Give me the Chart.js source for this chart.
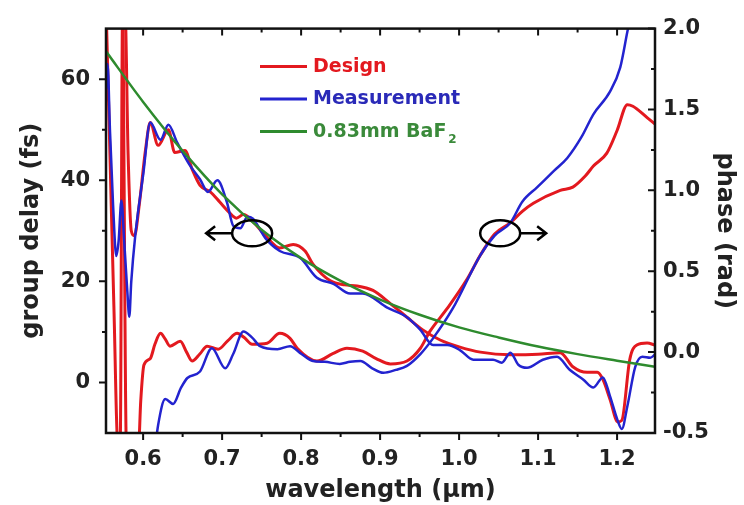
<!DOCTYPE html>
<html>
<head>
<meta charset="utf-8">
<script src="https://cdn.jsdelivr.net/npm/chart.js@4.4.1/dist/chart.umd.min.js"></script>
<style>
  html, body { margin: 0; padding: 0; background: #fff; }
  #wrap { width: 744px; height: 505px; }
</style>
</head>
<body>
<div id="wrap"><canvas id="myChart" width="744" height="505"></canvas></div>
<script>
// axis ranges + tick labels
const xRange = [0.553, 1.248];
const gdRange = [-10, 70];
const phRange = [-0.5, 2.0];
const xTicks = [0.6, 0.7, 0.8, 0.9, 1.0, 1.1, 1.2];
const gdTicks = [0, 20, 40, 60];
const phTicks = [-0.5, 0.0, 0.5, 1.0, 1.5, 2.0];

// group delay (fs)
const designGD = [
  [0.553, 75], [0.558, 45], [0.563, 15], [0.568, -12], [0.571, -12], [0.574, 74], [0.577, 74],
  [0.581, 45], [0.585, 30], [0.589, 29], [0.595, 35], [0.603, 46], [0.609, 51.4], [0.619, 46.9],
  [0.632, 50], [0.640, 45.5], [0.653, 45.9], [0.662, 42.2], [0.672, 39], [0.685, 37.7],
  [0.697, 35.7], [0.708, 33.8], [0.718, 32.5], [0.727, 33.2], [0.739, 31.8], [0.755, 29],
  [0.773, 26.6], [0.79, 27.3], [0.805, 26], [0.815, 23.4], [0.837, 20.1], [0.855, 19.3],
  [0.871, 19.1], [0.891, 18.2], [0.913, 15.6], [0.934, 12.9], [0.954, 10.4], [0.976, 8.4],
  [1.001, 7.0], [1.027, 6.0], [1.065, 5.5], [1.1, 5.6], [1.128, 5.9], [1.144, 3.1],
  [1.162, 2.0], [1.175, 2.0], [1.182, 0.6], [1.191, -3.3], [1.201, -7.8], [1.206, -7.5],
  [1.216, 4.5], [1.225, 7.4], [1.238, 7.8], [1.248, 7.4]
];
const measGD = [
  [0.553, 58], [0.555, 63], [0.558, 50], [0.562, 35], [0.566, 25], [0.569, 28], [0.5725, 36],
  [0.576, 28], [0.58, 18], [0.5825, 13], [0.585, 20], [0.59, 29], [0.6, 41], [0.609, 51.4],
  [0.622, 48], [0.632, 51], [0.643, 47.5], [0.659, 43], [0.672, 40.2], [0.682, 37.7],
  [0.694, 40], [0.706, 35.7], [0.714, 31], [0.723, 30.5], [0.732, 32.8], [0.739, 32.4],
  [0.755, 28.5], [0.773, 26], [0.799, 24.6], [0.82, 20.7], [0.841, 19.5], [0.862, 17.6],
  [0.878, 17.6], [0.909, 14.8], [0.934, 12.9], [0.951, 10.4], [0.967, 7.4], [0.985, 7.4],
  [1.001, 6.4], [1.018, 4.5], [1.043, 4.5], [1.054, 3.9], [1.065, 5.9], [1.075, 3.5],
  [1.086, 2.9], [1.106, 4.5], [1.124, 5.1], [1.14, 2.5], [1.157, 0.6], [1.17, -1],
  [1.182, 1], [1.191, -2.7], [1.2, -7.2], [1.206, -9.2], [1.213, -4.7], [1.223, 3.1],
  [1.232, 5.1], [1.242, 4.9], [1.248, 5.5]
];
const baf2GD = [
  [0.553, 65.5], [0.6, 55.5], [0.65, 45.8], [0.7, 37.2], [0.75, 30.2], [0.8, 24.6],
  [0.85, 20.1], [0.9, 16.4], [0.95, 13.4], [1.0, 10.9], [1.05, 8.9], [1.1, 7.1],
  [1.15, 5.6], [1.2, 4.3], [1.248, 3.1]
];

// phase (rad)
const designPh = [
  [0.5745, 2.1], [0.579, -0.6], [0.594, -0.6], [0.597, -0.3], [0.601, -0.08], [0.609, -0.04],
  [0.615, 0.05], [0.622, 0.116], [0.628, 0.08], [0.634, 0.037], [0.647, 0.067], [0.655, 0.0],
  [0.662, -0.055], [0.672, -0.01], [0.681, 0.037], [0.695, 0.018], [0.707, 0.07], [0.719, 0.116],
  [0.728, 0.09], [0.738, 0.049], [0.757, 0.055], [0.773, 0.116], [0.786, 0.085], [0.795, 0.024],
  [0.82, -0.055], [0.84, -0.01], [0.858, 0.024], [0.878, 0.006], [0.895, -0.04], [0.913, -0.073],
  [0.934, -0.055], [0.951, 0.024], [0.963, 0.128], [0.985, 0.27], [1.01, 0.45], [1.027, 0.6],
  [1.045, 0.73], [1.065, 0.8], [1.08, 0.87], [1.094, 0.92], [1.128, 1.0], [1.144, 1.02],
  [1.16, 1.09], [1.17, 1.15], [1.187, 1.23], [1.2, 1.37], [1.213, 1.53], [1.22, 1.52],
  [1.238, 1.45], [1.248, 1.41]
];
const measPh = [
  [0.615, -0.6], [0.619, -0.45], [0.628, -0.29], [0.638, -0.32], [0.648, -0.22], [0.656, -0.16],
  [0.672, -0.12], [0.687, 0.024], [0.704, -0.1], [0.714, -0.012], [0.727, 0.128], [0.738, 0.09],
  [0.748, 0.037], [0.77, 0.018], [0.786, 0.037], [0.8, -0.01], [0.815, -0.055], [0.83, -0.06],
  [0.849, -0.073], [0.862, -0.06], [0.875, -0.055], [0.89, -0.1], [0.904, -0.128], [0.92, -0.11],
  [0.934, -0.085], [0.951, -0.012], [0.967, 0.085], [0.992, 0.27], [1.027, 0.6], [1.045, 0.72],
  [1.065, 0.8], [1.08, 0.93], [1.099, 1.02], [1.12, 1.12], [1.137, 1.2], [1.155, 1.33],
  [1.17, 1.47], [1.191, 1.61], [1.204, 1.76], [1.213, 1.98], [1.218, 2.1]
];

const RED = "#e3191f";
const BLUE = "#2323cf";
const GREEN = "#2e8b2e";
const FONT = "'DejaVu Sans', sans-serif";

const pts = (arr) => arr.map(p => ({ x: p[0], y: p[1] }));

function line(data, color, width, axis, order) {
  return {
    data: pts(data),
    borderColor: color,
    borderWidth: width,
    pointRadius: 0,
    cubicInterpolationMode: "monotone",
    yAxisID: axis,
    order: order,
    clip: 0,
  };
}

// frame + minor/major ticks, drawn by hand (origin-style)
const frameTicks = {
  id: "frameTicks",
  afterDatasetsDraw(chart) {
    const { ctx, chartArea: a, scales } = chart;
    ctx.save();
    ctx.strokeStyle = "#111";
    ctx.lineWidth = 2.5;
    ctx.strokeRect(a.left, a.top, a.right - a.left, a.bottom - a.top);
    ctx.lineWidth = 2;
    ctx.beginPath();
    for (let i = 11; i <= 24; i++) {
      const v = i * 0.05;
      if (v < xRange[0] || v > xRange[1]) continue;
      const px = scales.x.getPixelForValue(v);
      const len = i % 2 === 0 ? 7 : 4;
      ctx.moveTo(px, a.bottom); ctx.lineTo(px, a.bottom + len);
      ctx.moveTo(px, a.top); ctx.lineTo(px, a.top + len);
    }
    for (let v = 0; v <= 60; v += 10) {
      const py = scales.y.getPixelForValue(v);
      const len = v % 20 === 0 ? 7 : 4;
      ctx.moveTo(a.left, py); ctx.lineTo(a.left - len, py);
    }
    for (let i = -2; i <= 8; i++) {
      const py = scales.y1.getPixelForValue(i * 0.25);
      const len = i % 2 === 0 ? 7 : 4;
      ctx.moveTo(a.right, py); ctx.lineTo(a.right - len, py);
    }
    ctx.stroke();
    ctx.restore();
  },
};

// the two "which axis" ellipses with arrows
const axisMarks = {
  id: "axisMarks",
  afterDatasetsDraw(chart) {
    const { ctx, scales } = chart;
    const marks = [
      { x: 0.738, y: 29.5, dir: -1 },
      { x: 1.052, y: 29.5, dir: 1 },
    ];
    ctx.save();
    ctx.strokeStyle = "#000";
    ctx.lineWidth = 2.5;
    marks.forEach(m => {
      const cx = scales.x.getPixelForValue(m.x);
      const cy = scales.y.getPixelForValue(m.y);
      const rx = 20, ry = 13;
      ctx.beginPath();
      ctx.ellipse(cx, cy, rx, ry, 0, 0, Math.PI * 2);
      ctx.stroke();
      const x0 = cx + m.dir * rx;
      const tip = x0 + m.dir * 26;
      ctx.beginPath();
      ctx.moveTo(x0, cy); ctx.lineTo(tip, cy);
      ctx.moveTo(tip - m.dir * 9, cy - 7); ctx.lineTo(tip, cy); ctx.lineTo(tip - m.dir * 9, cy + 7);
      ctx.stroke();
    });
    ctx.restore();
  },
};

// legend inside the plot
const innerLegend = {
  id: "innerLegend",
  afterDatasetsDraw(chart) {
    const { ctx, chartArea: a } = chart;
    const items = [
      { text: "Design", color: RED, line: RED, sub: "" },
      { text: "Measurement", color: "#2a2ab8", line: BLUE, sub: "" },
      { text: "0.83mm BaF", color: "#3a8a3a", line: GREEN, sub: "2" },
    ];
    const x0 = a.left + 154;
    ctx.save();
    ctx.font = "bold 19px " + FONT;
    ctx.textBaseline = "middle";
    items.forEach((it, i) => {
      const y = a.top + 38 + i * 32.5;
      ctx.strokeStyle = it.line;
      ctx.lineWidth = 3;
      ctx.beginPath();
      ctx.moveTo(x0, y); ctx.lineTo(x0 + 47, y);
      ctx.stroke();
      ctx.fillStyle = it.color;
      ctx.font = "bold 19px " + FONT;
      ctx.fillText(it.text, x0 + 53, y);
      if (it.sub) {
        const w = ctx.measureText(it.text).width;
        ctx.font = "bold 12px " + FONT;
        ctx.fillText(it.sub, x0 + 55 + w, y + 8);
      }
    });
    ctx.restore();
  },
};

const tickFont = { family: FONT, size: 21, weight: "bold" };
const titleFont = { family: FONT, size: 24, weight: "bold" };

const config = {
  type: "line",
  data: {
    datasets: [
      line(baf2GD, GREEN, 2.5, "y", 0),
      line(measGD, BLUE, 2.5, "y", 1),
      line(measPh, BLUE, 2.5, "y1", 2),
      line(designGD, RED, 3, "y", 3),
      line(designPh, RED, 3, "y1", 4),
    ],
  },
  options: {
    responsive: false,
    animation: false,
    maintainAspectRatio: false,
    layout: { padding: { top: 24, left: 0, right: 0, bottom: 0 } },
    scales: {
      x: {
        type: "linear",
        position: "bottom",
        min: xRange[0],
        max: xRange[1],
        grid: { display: false, drawTicks: false },
        border: { display: false },
        afterBuildTicks: (s) => { s.ticks = xTicks.map(v => ({ value: v })); },
        afterFit: (s) => { s.height = 72; },
        ticks: {
          font: tickFont, color: "#222", padding: 14, autoSkip: false, maxRotation: 0,
          callback: (v) => Number(v).toFixed(1),
        },
        title: { display: true, text: "wavelength (µm)", font: titleFont, color: "#222", padding: { top: 0, bottom: 0 } },
      },
      y: {
        type: "linear",
        position: "left",
        min: gdRange[0],
        max: gdRange[1],
        grid: { display: false, drawTicks: false },
        border: { display: false },
        afterBuildTicks: (s) => { s.ticks = gdTicks.map(v => ({ value: v })); },
        afterFit: (s) => { s.width = 106; },
        ticks: { font: tickFont, color: "#222", padding: 16 },
        title: { display: true, text: "group delay (fs)", font: titleFont, color: "#222", padding: { top: 17, bottom: 0 } },
      },
      y1: {
        type: "linear",
        position: "right",
        min: phRange[0],
        max: phRange[1],
        grid: { display: false, drawTicks: false },
        border: { display: false },
        afterBuildTicks: (s) => { s.ticks = phTicks.map(v => ({ value: v })); },
        afterFit: (s) => { s.width = 89; },
        ticks: {
          font: tickFont, color: "#222", padding: 8,
          callback: (v) => Number(v).toFixed(1),
        },
        title: { display: true, text: "phase (rad)", font: titleFont, color: "#222", padding: { top: 5, bottom: 0 } },
      },
    },
    plugins: {
      legend: { display: false },
      title: { display: false },
      tooltip: { enabled: false },
    },
  },
  plugins: [frameTicks, axisMarks, innerLegend],
};

const ctx = document.getElementById("myChart").getContext("2d");
new Chart(ctx, config);
</script>
</body>
</html>
